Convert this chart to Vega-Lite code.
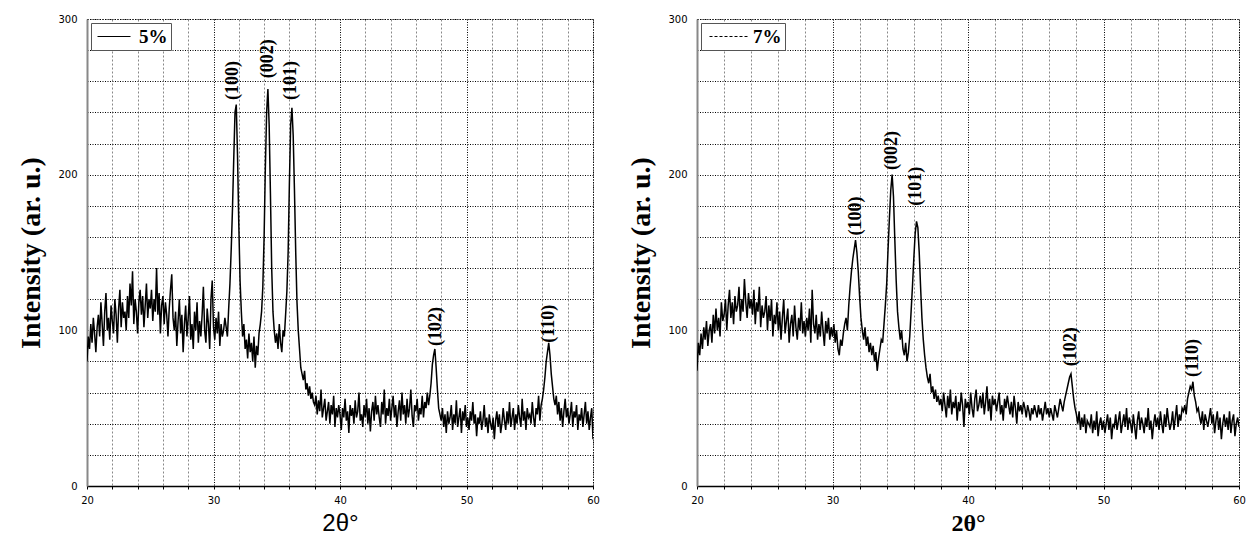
{
"$schema": "https://vega.github.io/schema/vega-lite/v6.json",
"background": "white",
"padding": {"left": 17, "top": 13, "right": 10, "bottom": 6},
"spacing": 27,
"resolve": {"scale": {"color": "independent"}, "legend": {"color": "independent"}},
"config": {
  "view": {"stroke": "#000", "strokeDash": [1, 2], "strokeWidth": 1},
  "axisX": {
    "values": [20,20.625,21.25,21.875,22.5,23.125,23.75,24.375,25,25.625,26.25,26.875,27.5,28.125,28.75,29.375,30,30.625,31.25,31.875,32.5,33.125,33.75,34.375,35,35.625,36.25,36.875,37.5,38.125,38.75,39.375,40,40.625,41.25,41.875,42.5,43.125,43.75,44.375,45,45.625,46.25,46.875,47.5,48.125,48.75,49.375,50,50.625,51.25,51.875,52.5,53.125,53.75,54.375,55,55.625,56.25,56.875,57.5,58.125,58.75,59.375,60],
    "labelExpr": "datum.value % 10 === 0 ? datum.label : ''",
    "labelOverlap": false, "labelFlush": false,
    "labelFont": "DejaVu Sans", "labelFontSize": 10, "labelColor": "#000", "labelPadding": 6,
    "domainColor": "#000", "domainWidth": 1.5,
    "tickColor": "#000", "tickSize": 3, "tickWidth": 1,
    "grid": true, "gridWidth": 1, "gridOpacity": 1,
    "gridColor": {"condition": {"test": "(datum.value*4) % 5 === 0", "value": "#000"}, "value": "#888"},
    "gridDash": {"condition": {"test": "(datum.value*4) % 5 === 0", "value": [1, 1.5]}, "value": [2, 2]},
    "titleColor": "#000", "titleFontSize": 24, "titlePadding": 6
  },
  "axisY": {
    "values": [0,5,10,15,20,25,30,35,40,45,50,55,60,65,70,75,80,85,90,95,100,105,110,115,120,125,130,135,140,145,150,155,160,165,170,175,180,185,190,195,200,205,210,215,220,225,230,235,240,245,250,255,260,265,270,275,280,285,290,295,300],
    "labelExpr": "datum.value % 100 === 0 ? datum.label : ''",
    "labelOverlap": false, "labelFlush": false,
    "labelFont": "DejaVu Sans", "labelFontSize": 10, "labelColor": "#000", "labelPadding": 6,
    "domainColor": "#888", "domainWidth": 2,
    "tickColor": "#000", "tickSize": 4, "tickWidth": 1,
    "tickOpacity": {"condition": {"test": "datum.value % 10 === 0", "value": 1}, "value": 0},
    "grid": true, "gridWidth": 1, "gridOpacity": 1,
    "gridColor": {"condition": {"test": "datum.value % 10 === 0", "value": "#000"}, "value": "#888"},
    "gridDash": {"condition": {"test": "datum.value % 10 === 0", "value": [1, 1.5]}, "value": [2, 2]},
    "titleFont": "Liberation Serif", "titleFontSize": 28, "titleFontWeight": "bold", "titleColor": "#000", "titlePadding": 12
  },
  "legend": {
    "orient": "top-left", "offset": 4, "title": null,
    "strokeColor": "#555", "fillColor": "white", "padding": 3,
    "symbolSize": 400, "symbolStrokeWidth": 1, "symbolStrokeColor": "#000", "symbolFillColor": "transparent",
    "labelFont": "Liberation Serif", "labelFontSize": 19, "labelFontWeight": "bold", "labelColor": "#000"
  }
},
"datasets": {
"l5": [{"label":"(100)","t":31.56,"i":248},{"label":"(002)","t":34.33,"i":262},{"label":"(101)","t":36.15,"i":248},{"label":"(102)","t":47.55,"i":90},{"label":"(110)","t":56.5,"i":92}],
"l7": [{"label":"(100)","t":31.73,"i":161},{"label":"(002)","t":34.39,"i":203},{"label":"(101)","t":36.16,"i":180},{"label":"(102)","t":47.6,"i":77},{"label":"(110)","t":56.6,"i":70}],
"d5": [
{"t":20.0,"i":80},{"t":20.1,"i":96},{"t":20.2,"i":88},{"t":20.3,"i":104},{"t":20.4,"i":92},{"t":20.5,"i":108},{"t":20.6,"i":98},{"t":20.7,"i":86},{"t":20.8,"i":102},{"t":20.9,"i":110},
{"t":21.0,"i":96},{"t":21.1,"i":118},{"t":21.2,"i":104},{"t":21.3,"i":90},{"t":21.4,"i":112},{"t":21.5,"i":124},{"t":21.6,"i":100},{"t":21.7,"i":108},{"t":21.8,"i":94},{"t":21.9,"i":116},
{"t":22.0,"i":106},{"t":22.1,"i":98},{"t":22.2,"i":120},{"t":22.3,"i":110},{"t":22.4,"i":92},{"t":22.5,"i":114},{"t":22.6,"i":126},{"t":22.7,"i":102},{"t":22.8,"i":118},{"t":22.9,"i":108},
{"t":23.0,"i":112},{"t":23.1,"i":100},{"t":23.2,"i":122},{"t":23.3,"i":108},{"t":23.4,"i":130},{"t":23.5,"i":116},{"t":23.6,"i":138},{"t":23.7,"i":104},{"t":23.8,"i":120},{"t":23.9,"i":112},
{"t":24.0,"i":98},{"t":24.1,"i":118},{"t":24.2,"i":126},{"t":24.3,"i":110},{"t":24.4,"i":122},{"t":24.5,"i":102},{"t":24.6,"i":116},{"t":24.7,"i":130},{"t":24.8,"i":108},{"t":24.9,"i":120},
{"t":25.0,"i":114},{"t":25.1,"i":126},{"t":25.2,"i":106},{"t":25.3,"i":120},{"t":25.4,"i":112},{"t":25.5,"i":140},{"t":25.6,"i":110},{"t":25.7,"i":124},{"t":25.8,"i":98},{"t":25.9,"i":116},
{"t":26.0,"i":122},{"t":26.1,"i":104},{"t":26.2,"i":118},{"t":26.3,"i":110},{"t":26.4,"i":96},{"t":26.5,"i":114},{"t":26.6,"i":126},{"t":26.7,"i":136},{"t":26.8,"i":108},{"t":26.9,"i":100},
{"t":27.0,"i":112},{"t":27.1,"i":90},{"t":27.2,"i":106},{"t":27.3,"i":120},{"t":27.4,"i":98},{"t":27.5,"i":110},{"t":27.6,"i":86},{"t":27.7,"i":104},{"t":27.8,"i":116},{"t":27.9,"i":96},
{"t":28.0,"i":108},{"t":28.1,"i":122},{"t":28.2,"i":94},{"t":28.3,"i":104},{"t":28.4,"i":88},{"t":28.5,"i":112},{"t":28.6,"i":100},{"t":28.7,"i":118},{"t":28.8,"i":92},{"t":28.9,"i":106},
{"t":29.0,"i":96},{"t":29.1,"i":110},{"t":29.2,"i":128},{"t":29.3,"i":100},{"t":29.4,"i":92},{"t":29.5,"i":114},{"t":29.6,"i":104},{"t":29.7,"i":88},{"t":29.8,"i":120},{"t":29.9,"i":132},
{"t":30.0,"i":102},{"t":30.1,"i":94},{"t":30.2,"i":108},{"t":30.3,"i":98},{"t":30.4,"i":112},{"t":30.5,"i":90},{"t":30.6,"i":104},{"t":30.7,"i":96},{"t":30.8,"i":100},{"t":30.9,"i":108},
{"t":31.0,"i":102},{"t":31.1,"i":96},{"t":31.2,"i":114},{"t":31.3,"i":130},{"t":31.4,"i":152},{"t":31.5,"i":178},{"t":31.6,"i":210},{"t":31.7,"i":240},{"t":31.8,"i":245},{"t":31.9,"i":212},
{"t":32.0,"i":168},{"t":32.1,"i":132},{"t":32.2,"i":112},{"t":32.3,"i":96},{"t":32.4,"i":104},{"t":32.5,"i":88},{"t":32.6,"i":94},{"t":32.7,"i":82},{"t":32.8,"i":98},{"t":32.9,"i":86},
{"t":33.0,"i":92},{"t":33.1,"i":80},{"t":33.2,"i":96},{"t":33.3,"i":76},{"t":33.4,"i":90},{"t":33.5,"i":84},{"t":33.6,"i":98},{"t":33.7,"i":104},{"t":33.8,"i":112},{"t":33.9,"i":128},
{"t":34.0,"i":160},{"t":34.1,"i":205},{"t":34.2,"i":240},{"t":34.3,"i":255},{"t":34.4,"i":232},{"t":34.5,"i":188},{"t":34.6,"i":140},{"t":34.7,"i":112},{"t":34.8,"i":100},{"t":34.9,"i":92},
{"t":35.0,"i":98},{"t":35.1,"i":88},{"t":35.2,"i":104},{"t":35.3,"i":92},{"t":35.4,"i":86},{"t":35.5,"i":100},{"t":35.6,"i":96},{"t":35.7,"i":110},{"t":35.8,"i":125},{"t":35.9,"i":150},
{"t":36.0,"i":195},{"t":36.1,"i":232},{"t":36.2,"i":243},{"t":36.3,"i":225},{"t":36.4,"i":190},{"t":36.5,"i":150},{"t":36.6,"i":118},{"t":36.7,"i":100},{"t":36.8,"i":88},{"t":36.9,"i":76},
{"t":37.0,"i":72},{"t":37.1,"i":68},{"t":37.2,"i":74},{"t":37.3,"i":62},{"t":37.4,"i":66},{"t":37.5,"i":58},{"t":37.6,"i":64},{"t":37.7,"i":56},{"t":37.8,"i":60},{"t":37.9,"i":54},
{"t":38.0,"i":52},{"t":38.1,"i":58},{"t":38.2,"i":46},{"t":38.3,"i":55},{"t":38.4,"i":48},{"t":38.5,"i":62},{"t":38.6,"i":44},{"t":38.7,"i":50},{"t":38.8,"i":56},{"t":38.9,"i":42},
{"t":39.0,"i":48},{"t":39.1,"i":54},{"t":39.2,"i":40},{"t":39.3,"i":52},{"t":39.4,"i":46},{"t":39.5,"i":58},{"t":39.6,"i":38},{"t":39.7,"i":50},{"t":39.8,"i":44},{"t":39.9,"i":52},
{"t":40.0,"i":46},{"t":40.1,"i":36},{"t":40.2,"i":50},{"t":40.3,"i":44},{"t":40.4,"i":56},{"t":40.5,"i":42},{"t":40.6,"i":48},{"t":40.7,"i":34},{"t":40.8,"i":52},{"t":40.9,"i":45},
{"t":41.0,"i":50},{"t":41.1,"i":40},{"t":41.2,"i":55},{"t":41.3,"i":44},{"t":41.4,"i":48},{"t":41.5,"i":60},{"t":41.6,"i":42},{"t":41.7,"i":46},{"t":41.8,"i":38},{"t":41.9,"i":52},
{"t":42.0,"i":44},{"t":42.1,"i":56},{"t":42.2,"i":40},{"t":42.3,"i":50},{"t":42.4,"i":35},{"t":42.5,"i":48},{"t":42.6,"i":54},{"t":42.7,"i":42},{"t":42.8,"i":58},{"t":42.9,"i":46},
{"t":43.0,"i":52},{"t":43.1,"i":44},{"t":43.2,"i":38},{"t":43.3,"i":54},{"t":43.4,"i":46},{"t":43.5,"i":62},{"t":43.6,"i":40},{"t":43.7,"i":50},{"t":43.8,"i":45},{"t":43.9,"i":56},
{"t":44.0,"i":42},{"t":44.1,"i":50},{"t":44.2,"i":58},{"t":44.3,"i":44},{"t":44.4,"i":52},{"t":44.5,"i":38},{"t":44.6,"i":48},{"t":44.7,"i":55},{"t":44.8,"i":42},{"t":44.9,"i":60},
{"t":45.0,"i":46},{"t":45.1,"i":52},{"t":45.2,"i":40},{"t":45.3,"i":56},{"t":45.4,"i":44},{"t":45.5,"i":50},{"t":45.6,"i":62},{"t":45.7,"i":45},{"t":45.8,"i":38},{"t":45.9,"i":52},
{"t":46.0,"i":48},{"t":46.1,"i":56},{"t":46.2,"i":42},{"t":46.3,"i":50},{"t":46.4,"i":46},{"t":46.5,"i":58},{"t":46.6,"i":44},{"t":46.7,"i":54},{"t":46.8,"i":50},{"t":46.9,"i":60},
{"t":47.0,"i":52},{"t":47.1,"i":58},{"t":47.2,"i":66},{"t":47.3,"i":78},{"t":47.4,"i":84},{"t":47.5,"i":88},{"t":47.6,"i":76},{"t":47.7,"i":62},{"t":47.8,"i":50},{"t":47.9,"i":46},
{"t":48.0,"i":42},{"t":48.1,"i":50},{"t":48.2,"i":38},{"t":48.3,"i":46},{"t":48.4,"i":34},{"t":48.5,"i":48},{"t":48.6,"i":40},{"t":48.7,"i":44},{"t":48.8,"i":52},{"t":48.9,"i":36},
{"t":49.0,"i":46},{"t":49.1,"i":40},{"t":49.2,"i":55},{"t":49.3,"i":38},{"t":49.4,"i":44},{"t":49.5,"i":50},{"t":49.6,"i":34},{"t":49.7,"i":48},{"t":49.8,"i":42},{"t":49.9,"i":52},
{"t":50.0,"i":38},{"t":50.1,"i":44},{"t":50.2,"i":36},{"t":50.3,"i":48},{"t":50.4,"i":42},{"t":50.5,"i":54},{"t":50.6,"i":40},{"t":50.7,"i":46},{"t":50.8,"i":32},{"t":50.9,"i":44},
{"t":51.0,"i":40},{"t":51.1,"i":48},{"t":51.2,"i":36},{"t":51.3,"i":42},{"t":51.4,"i":52},{"t":51.5,"i":38},{"t":51.6,"i":44},{"t":51.7,"i":34},{"t":51.8,"i":46},{"t":51.9,"i":40},
{"t":52.0,"i":36},{"t":52.1,"i":44},{"t":52.2,"i":30},{"t":52.3,"i":42},{"t":52.4,"i":48},{"t":52.5,"i":38},{"t":52.6,"i":46},{"t":52.7,"i":34},{"t":52.8,"i":40},{"t":52.9,"i":50},
{"t":53.0,"i":42},{"t":53.1,"i":36},{"t":53.2,"i":48},{"t":53.3,"i":40},{"t":53.4,"i":54},{"t":53.5,"i":38},{"t":53.6,"i":44},{"t":53.7,"i":50},{"t":53.8,"i":36},{"t":53.9,"i":46},
{"t":54.0,"i":40},{"t":54.1,"i":52},{"t":54.2,"i":44},{"t":54.3,"i":38},{"t":54.4,"i":56},{"t":54.5,"i":42},{"t":54.6,"i":48},{"t":54.7,"i":36},{"t":54.8,"i":50},{"t":54.9,"i":44},
{"t":55.0,"i":46},{"t":55.1,"i":40},{"t":55.2,"i":54},{"t":55.3,"i":44},{"t":55.4,"i":38},{"t":55.5,"i":50},{"t":55.6,"i":46},{"t":55.7,"i":58},{"t":55.8,"i":42},{"t":55.9,"i":52},
{"t":56.0,"i":56},{"t":56.1,"i":62},{"t":56.2,"i":70},{"t":56.3,"i":80},{"t":56.4,"i":86},{"t":56.5,"i":92},{"t":56.6,"i":84},{"t":56.7,"i":72},{"t":56.8,"i":64},{"t":56.9,"i":56},
{"t":57.0,"i":52},{"t":57.1,"i":58},{"t":57.2,"i":46},{"t":57.3,"i":54},{"t":57.4,"i":42},{"t":57.5,"i":50},{"t":57.6,"i":38},{"t":57.7,"i":48},{"t":57.8,"i":56},{"t":57.9,"i":44},
{"t":58.0,"i":50},{"t":58.1,"i":40},{"t":58.2,"i":46},{"t":58.3,"i":54},{"t":58.4,"i":38},{"t":58.5,"i":48},{"t":58.6,"i":44},{"t":58.7,"i":52},{"t":58.8,"i":36},{"t":58.9,"i":46},
{"t":59.0,"i":42},{"t":59.1,"i":50},{"t":59.2,"i":38},{"t":59.3,"i":46},{"t":59.4,"i":54},{"t":59.5,"i":40},{"t":59.6,"i":48},{"t":59.7,"i":36},{"t":59.8,"i":44},{"t":59.9,"i":50},
{"t":60.0,"i":30}
],
"d7": [
{"t":20.0,"i":74},{"t":20.1,"i":92},{"t":20.2,"i":84},{"t":20.3,"i":98},{"t":20.4,"i":88},{"t":20.5,"i":102},{"t":20.6,"i":94},{"t":20.7,"i":106},{"t":20.8,"i":90},{"t":20.9,"i":100},
{"t":21.0,"i":104},{"t":21.1,"i":92},{"t":21.2,"i":110},{"t":21.3,"i":98},{"t":21.4,"i":114},{"t":21.5,"i":100},{"t":21.6,"i":108},{"t":21.7,"i":96},{"t":21.8,"i":118},{"t":21.9,"i":106},
{"t":22.0,"i":110},{"t":22.1,"i":120},{"t":22.2,"i":100},{"t":22.3,"i":116},{"t":22.4,"i":126},{"t":22.5,"i":108},{"t":22.6,"i":118},{"t":22.7,"i":104},{"t":22.8,"i":122},{"t":22.9,"i":112},
{"t":23.0,"i":116},{"t":23.1,"i":128},{"t":23.2,"i":106},{"t":23.3,"i":120},{"t":23.4,"i":112},{"t":23.5,"i":133},{"t":23.6,"i":118},{"t":23.7,"i":108},{"t":23.8,"i":124},{"t":23.9,"i":114},
{"t":24.0,"i":120},{"t":24.1,"i":110},{"t":24.2,"i":126},{"t":24.3,"i":104},{"t":24.4,"i":118},{"t":24.5,"i":112},{"t":24.6,"i":128},{"t":24.7,"i":102},{"t":24.8,"i":116},{"t":24.9,"i":108},
{"t":25.0,"i":112},{"t":25.1,"i":122},{"t":25.2,"i":100},{"t":25.3,"i":116},{"t":25.4,"i":106},{"t":25.5,"i":120},{"t":25.6,"i":96},{"t":25.7,"i":110},{"t":25.8,"i":104},{"t":25.9,"i":118},
{"t":26.0,"i":100},{"t":26.1,"i":112},{"t":26.2,"i":94},{"t":26.3,"i":108},{"t":26.4,"i":120},{"t":26.5,"i":98},{"t":26.6,"i":106},{"t":26.7,"i":114},{"t":26.8,"i":92},{"t":26.9,"i":104},
{"t":27.0,"i":110},{"t":27.1,"i":96},{"t":27.2,"i":116},{"t":27.3,"i":102},{"t":27.4,"i":94},{"t":27.5,"i":108},{"t":27.6,"i":100},{"t":27.7,"i":118},{"t":27.8,"i":98},{"t":27.9,"i":106},
{"t":28.0,"i":96},{"t":28.1,"i":108},{"t":28.2,"i":100},{"t":28.3,"i":114},{"t":28.4,"i":92},{"t":28.5,"i":126},{"t":28.6,"i":104},{"t":28.7,"i":98},{"t":28.8,"i":110},{"t":28.9,"i":94},
{"t":29.0,"i":104},{"t":29.1,"i":96},{"t":29.2,"i":112},{"t":29.3,"i":100},{"t":29.4,"i":90},{"t":29.5,"i":106},{"t":29.6,"i":98},{"t":29.7,"i":108},{"t":29.8,"i":94},{"t":29.9,"i":102},
{"t":30.0,"i":96},{"t":30.1,"i":104},{"t":30.2,"i":92},{"t":30.3,"i":100},{"t":30.4,"i":88},{"t":30.5,"i":84},{"t":30.6,"i":94},{"t":30.7,"i":90},{"t":30.8,"i":98},{"t":30.9,"i":104},
{"t":31.0,"i":108},{"t":31.1,"i":100},{"t":31.2,"i":116},{"t":31.3,"i":128},{"t":31.4,"i":138},{"t":31.5,"i":146},{"t":31.6,"i":152},{"t":31.7,"i":158},{"t":31.8,"i":150},{"t":31.9,"i":138},
{"t":32.0,"i":122},{"t":32.1,"i":108},{"t":32.2,"i":100},{"t":32.3,"i":94},{"t":32.4,"i":102},{"t":32.5,"i":90},{"t":32.6,"i":96},{"t":32.7,"i":86},{"t":32.8,"i":92},{"t":32.9,"i":84},
{"t":33.0,"i":90},{"t":33.1,"i":80},{"t":33.2,"i":86},{"t":33.3,"i":74},{"t":33.4,"i":82},{"t":33.5,"i":88},{"t":33.6,"i":94},{"t":33.7,"i":92},{"t":33.8,"i":104},{"t":33.9,"i":116},
{"t":34.0,"i":130},{"t":34.1,"i":152},{"t":34.2,"i":172},{"t":34.3,"i":190},{"t":34.4,"i":200},{"t":34.5,"i":186},{"t":34.6,"i":158},{"t":34.7,"i":132},{"t":34.8,"i":112},{"t":34.9,"i":102},
{"t":35.0,"i":94},{"t":35.1,"i":100},{"t":35.2,"i":88},{"t":35.3,"i":84},{"t":35.4,"i":92},{"t":35.5,"i":80},{"t":35.6,"i":86},{"t":35.7,"i":96},{"t":35.8,"i":112},{"t":35.9,"i":128},
{"t":36.0,"i":146},{"t":36.1,"i":162},{"t":36.2,"i":170},{"t":36.3,"i":166},{"t":36.4,"i":150},{"t":36.5,"i":128},{"t":36.6,"i":108},{"t":36.7,"i":94},{"t":36.8,"i":84},{"t":36.9,"i":76},
{"t":37.0,"i":70},{"t":37.1,"i":66},{"t":37.2,"i":72},{"t":37.3,"i":60},{"t":37.4,"i":64},{"t":37.5,"i":56},{"t":37.6,"i":62},{"t":37.7,"i":54},{"t":37.8,"i":58},{"t":37.9,"i":52},
{"t":38.0,"i":56},{"t":38.1,"i":48},{"t":38.2,"i":60},{"t":38.3,"i":52},{"t":38.4,"i":44},{"t":38.5,"i":58},{"t":38.6,"i":50},{"t":38.7,"i":62},{"t":38.8,"i":46},{"t":38.9,"i":54},
{"t":39.0,"i":50},{"t":39.1,"i":58},{"t":39.2,"i":42},{"t":39.3,"i":54},{"t":39.4,"i":48},{"t":39.5,"i":60},{"t":39.6,"i":52},{"t":39.7,"i":38},{"t":39.8,"i":56},{"t":39.9,"i":50},
{"t":40.0,"i":54},{"t":40.1,"i":46},{"t":40.2,"i":60},{"t":40.3,"i":50},{"t":40.4,"i":44},{"t":40.5,"i":56},{"t":40.6,"i":62},{"t":40.7,"i":48},{"t":40.8,"i":52},{"t":40.9,"i":58},
{"t":41.0,"i":50},{"t":41.1,"i":60},{"t":41.2,"i":46},{"t":41.3,"i":54},{"t":41.4,"i":64},{"t":41.5,"i":48},{"t":41.6,"i":56},{"t":41.7,"i":42},{"t":41.8,"i":58},{"t":41.9,"i":52},
{"t":42.0,"i":56},{"t":42.1,"i":48},{"t":42.2,"i":54},{"t":42.3,"i":60},{"t":42.4,"i":46},{"t":42.5,"i":52},{"t":42.6,"i":42},{"t":42.7,"i":56},{"t":42.8,"i":50},{"t":42.9,"i":58},
{"t":43.0,"i":52},{"t":43.1,"i":46},{"t":43.2,"i":54},{"t":43.3,"i":44},{"t":43.4,"i":58},{"t":43.5,"i":50},{"t":43.6,"i":40},{"t":43.7,"i":54},{"t":43.8,"i":48},{"t":43.9,"i":52},
{"t":44.0,"i":46},{"t":44.1,"i":54},{"t":44.2,"i":50},{"t":44.3,"i":44},{"t":44.4,"i":52},{"t":44.5,"i":48},{"t":44.6,"i":42},{"t":44.7,"i":50},{"t":44.8,"i":46},{"t":44.9,"i":52},
{"t":45.0,"i":48},{"t":45.1,"i":44},{"t":45.2,"i":52},{"t":45.3,"i":46},{"t":45.4,"i":50},{"t":45.5,"i":42},{"t":45.6,"i":48},{"t":45.7,"i":54},{"t":45.8,"i":46},{"t":45.9,"i":50},
{"t":46.0,"i":44},{"t":46.1,"i":50},{"t":46.2,"i":46},{"t":46.3,"i":42},{"t":46.4,"i":52},{"t":46.5,"i":48},{"t":46.6,"i":44},{"t":46.7,"i":50},{"t":46.8,"i":56},{"t":46.9,"i":52},
{"t":47.0,"i":48},{"t":47.1,"i":54},{"t":47.2,"i":58},{"t":47.3,"i":62},{"t":47.4,"i":66},{"t":47.5,"i":70},{"t":47.6,"i":72},{"t":47.7,"i":64},{"t":47.8,"i":56},{"t":47.9,"i":50},
{"t":48.0,"i":46},{"t":48.1,"i":40},{"t":48.2,"i":48},{"t":48.3,"i":36},{"t":48.4,"i":44},{"t":48.5,"i":38},{"t":48.6,"i":46},{"t":48.7,"i":34},{"t":48.8,"i":42},{"t":48.9,"i":40},
{"t":49.0,"i":38},{"t":49.1,"i":46},{"t":49.2,"i":34},{"t":49.3,"i":42},{"t":49.4,"i":36},{"t":49.5,"i":48},{"t":49.6,"i":32},{"t":49.7,"i":40},{"t":49.8,"i":44},{"t":49.9,"i":36},
{"t":50.0,"i":42},{"t":50.1,"i":34},{"t":50.2,"i":40},{"t":50.3,"i":46},{"t":50.4,"i":36},{"t":50.5,"i":44},{"t":50.6,"i":30},{"t":50.7,"i":40},{"t":50.8,"i":38},{"t":50.9,"i":46},
{"t":51.0,"i":36},{"t":51.1,"i":42},{"t":51.2,"i":48},{"t":51.3,"i":34},{"t":51.4,"i":40},{"t":51.5,"i":46},{"t":51.6,"i":38},{"t":51.7,"i":50},{"t":51.8,"i":36},{"t":51.9,"i":44},
{"t":52.0,"i":40},{"t":52.1,"i":34},{"t":52.2,"i":46},{"t":52.3,"i":38},{"t":52.4,"i":30},{"t":52.5,"i":42},{"t":52.6,"i":48},{"t":52.7,"i":36},{"t":52.8,"i":44},{"t":52.9,"i":40},
{"t":53.0,"i":34},{"t":53.1,"i":44},{"t":53.2,"i":38},{"t":53.3,"i":50},{"t":53.4,"i":36},{"t":53.5,"i":42},{"t":53.6,"i":30},{"t":53.7,"i":40},{"t":53.8,"i":46},{"t":53.9,"i":38},
{"t":54.0,"i":44},{"t":54.1,"i":36},{"t":54.2,"i":48},{"t":54.3,"i":40},{"t":54.4,"i":34},{"t":54.5,"i":46},{"t":54.6,"i":38},{"t":54.7,"i":50},{"t":54.8,"i":42},{"t":54.9,"i":36},
{"t":55.0,"i":40},{"t":55.1,"i":48},{"t":55.2,"i":36},{"t":55.3,"i":44},{"t":55.4,"i":52},{"t":55.5,"i":38},{"t":55.6,"i":46},{"t":55.7,"i":42},{"t":55.8,"i":50},{"t":55.9,"i":48},
{"t":56.0,"i":52},{"t":56.1,"i":46},{"t":56.2,"i":56},{"t":56.3,"i":60},{"t":56.4,"i":64},{"t":56.5,"i":62},{"t":56.6,"i":67},{"t":56.7,"i":58},{"t":56.8,"i":54},{"t":56.9,"i":48},
{"t":57.0,"i":50},{"t":57.1,"i":44},{"t":57.2,"i":40},{"t":57.3,"i":48},{"t":57.4,"i":36},{"t":57.5,"i":46},{"t":57.6,"i":42},{"t":57.7,"i":38},{"t":57.8,"i":44},{"t":57.9,"i":50},
{"t":58.0,"i":40},{"t":58.1,"i":46},{"t":58.2,"i":34},{"t":58.3,"i":42},{"t":58.4,"i":48},{"t":58.5,"i":36},{"t":58.6,"i":44},{"t":58.7,"i":30},{"t":58.8,"i":40},{"t":58.9,"i":46},
{"t":59.0,"i":38},{"t":59.1,"i":44},{"t":59.2,"i":36},{"t":59.3,"i":48},{"t":59.4,"i":34},{"t":59.5,"i":42},{"t":59.6,"i":46},{"t":59.7,"i":32},{"t":59.8,"i":40},{"t":59.9,"i":44},
{"t":60.0,"i":38}
]
},
"hconcat": [
  {
    "width": 506, "height": 467,
    "layer": [
      {
        "data": {"name": "d5"},
        "mark": {"type": "line", "strokeWidth": 1.5, "clip": true},
        "encoding": {
          "x": {"field": "t", "type": "quantitative", "scale": {"domain": [20, 60], "nice": false, "zero": false}, "axis": {"title": "2θ°", "titleFont": "Liberation Sans", "titleFontWeight": "normal"}},
          "y": {"field": "i", "type": "quantitative", "scale": {"domain": [0, 300], "nice": false}, "axis": {"title": "Intensity (ar. u.)"}},
          "color": {"datum": "5%", "type": "nominal", "scale": {"range": ["#000"]}, "legend": {"symbolType": "M-0.7,0H2.6", "labelOffset": 24}}
        }
      },
      {
        "data": {"name": "l5"},
        "mark": {"type": "text", "angle": 270, "align": "left", "baseline": "middle", "font": "Liberation Serif", "fontSize": 18, "fontWeight": "bold", "color": "#000"},
        "encoding": {
          "x": {"field": "t", "type": "quantitative"},
          "y": {"field": "i", "type": "quantitative"},
          "text": {"field": "label"}
        }
      }
    ]
  },
  {
    "width": 542, "height": 467,
    "layer": [
      {
        "data": {"name": "d7"},
        "mark": {"type": "line", "strokeWidth": 1.5, "clip": true},
        "encoding": {
          "x": {"field": "t", "type": "quantitative", "scale": {"domain": [20, 60], "nice": false, "zero": false}, "axis": {"title": "2θ°", "titleFont": "Liberation Serif", "titleFontWeight": "bold"}},
          "y": {"field": "i", "type": "quantitative", "scale": {"domain": [0, 300], "nice": false}, "axis": {"title": "Intensity (ar. u.)"}},
          "color": {"datum": "7%", "type": "nominal", "scale": {"range": ["#000"]}, "legend": {"symbolType": "M-0.5,0H3.5", "symbolDash": [3, 2], "labelOffset": 28}}
        }
      },
      {
        "data": {"name": "l7"},
        "mark": {"type": "text", "angle": 270, "align": "left", "baseline": "middle", "font": "Liberation Serif", "fontSize": 18, "fontWeight": "bold", "color": "#000"},
        "encoding": {
          "x": {"field": "t", "type": "quantitative"},
          "y": {"field": "i", "type": "quantitative"},
          "text": {"field": "label"}
        }
      }
    ]
  }
]
}
